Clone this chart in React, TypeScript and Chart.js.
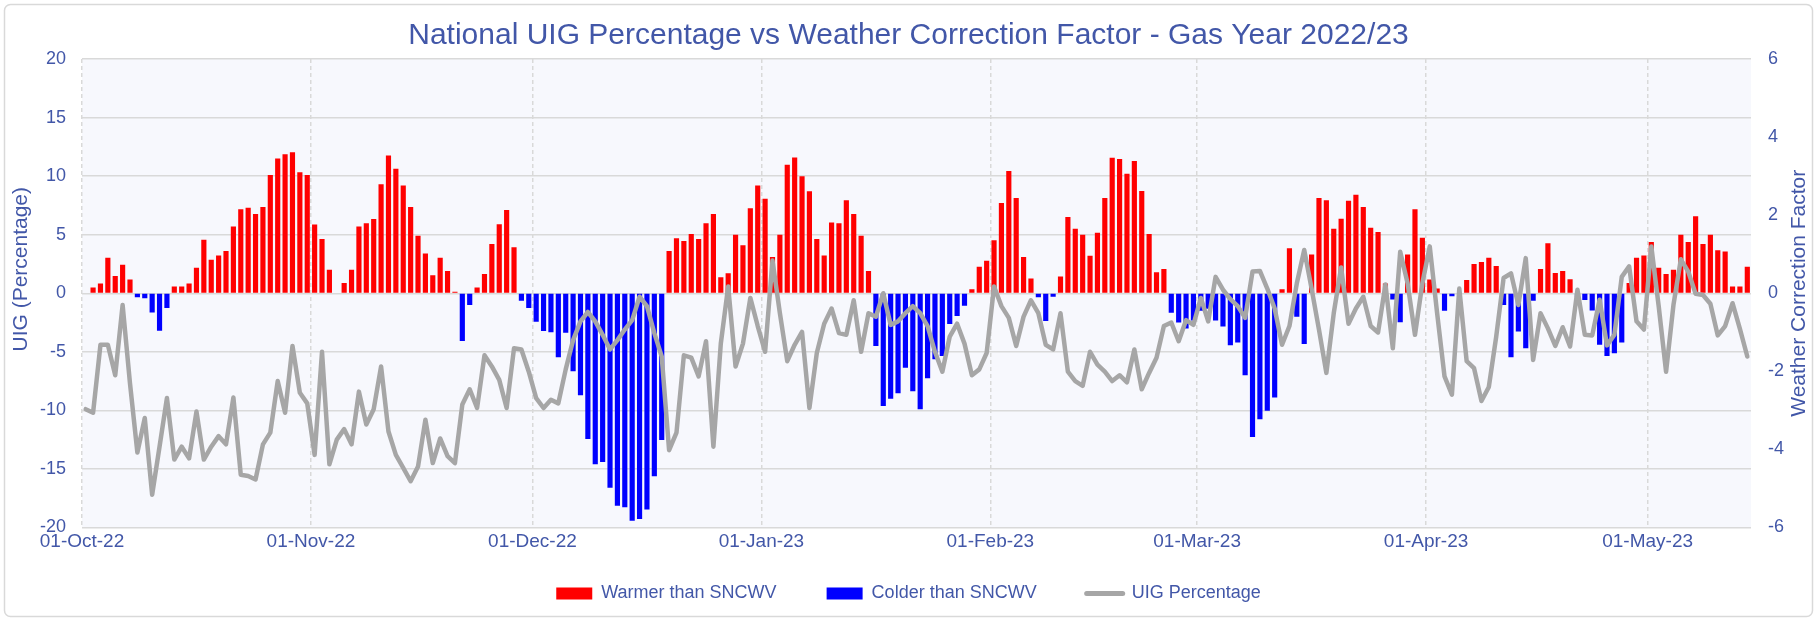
import React, { useEffect, useRef } from "react";
import { Chart, registerables } from "chart.js";

Chart.register(...registerables);

const FONT = "'Liberation Sans', Arial, sans-serif";
const TEXT_BLUE = "#4257A8";
const GRID = "#D9D9D9";

const chartTitle = "National UIG Percentage vs Weather Correction Factor - Gas Year 2022/23";
const leftAxisTitle = "UIG (Percentage)";
const rightAxisTitle = "Weather Correction Factor";
const seriesNames = ["Warmer than SNCWV", "Colder than SNCWV", "UIG Percentage"];

const monthTickLabels = ["01-Oct-22", "01-Nov-22", "01-Dec-22", "01-Jan-23", "01-Feb-23", "01-Mar-23", "01-Apr-23", "01-May-23"];

// Daily Weather Correction Factor (right axis), 01-Oct-22 .. 14-May-23
const weatherCorrection = [
  0, 0.15, 0.25, 0.91, 0.44, 0.73, 0.35, -0.10, -0.13, -0.49,
  -0.96, -0.38, 0.17, 0.17, 0.25, 0.65, 1.37, 0.86, 0.97, 1.08,
  1.71, 2.15, 2.19, 2.03, 2.21, 3.03, 3.45, 3.56, 3.61, 3.10,
  3.03, 1.76, 1.39, 0.60, 0, 0.26, 0.60, 1.71, 1.79, 1.90,
  2.79, 3.53, 3.19, 2.76, 2.21, 1.47, 1.02, 0.46, 0.91, 0.57,
  0.04, -1.22, -0.30, 0.15, 0.49, 1.26, 1.77, 2.13, 1.18, -0.19,
  -0.38, -0.73, -0.97, -1.00, -1.64, -1.01, -2.00, -2.61, -3.73, -4.38,
  -4.32, -4.98, -5.44, -5.48, -5.83, -5.78, -5.54, -4.69, -3.76, 1.08,
  1.41, 1.34, 1.52, 1.39, 1.79, 2.03, 0.41, 0.51, 1.50, 1.23,
  2.18, 2.76, 2.42, 0.93, 1.50, 3.29, 3.48, 3.00, 2.61, 1.39,
  0.97, 1.81, 1.79, 2.38, 2.03, 1.47, 0.57, -1.35, -2.89, -2.70,
  -2.56, -1.91, -2.51, -2.97, -2.18, -1.69, -1.61, -0.79, -0.58, -0.32,
  0.10, 0.68, 0.83, 1.36, 2.31, 3.13, 2.44, 0.93, 0.38, -0.10,
  -0.71, -0.09, 0.43, 1.95, 1.65, 1.50, 0.96, 1.55, 2.44, 3.47,
  3.44, 3.06, 3.39, 2.62, 1.52, 0.54, 0.62, -0.50, -0.75, -0.90,
  -0.70, -0.45, -0.40, -0.70, -0.85, -1.33, -1.26, -2.10, -3.68, -3.23,
  -3.01, -2.67, 0.10, 1.15, -0.60, -1.30, 0.99, 2.44, 2.38, 1.65,
  1.91, 2.37, 2.52, 2.21, 1.68, 1.57, 0.25, -0.16, -0.74, 0.99,
  2.15, 1.42, 0.35, 0.12, -0.45, -0.08, 0, 0.34, 0.75, 0.80,
  0.91, 0.70, -0.30, -1.64, -0.98, -1.41, -0.19, 0.62, 1.28, 0.52,
  0.57, 0.36, -0.10, -0.17, -0.44, -1.32, -1.61, -1.54, -1.26, 0.26,
  0.91, 0.97, 1.31, 0.65, 0.49, 0.60, 1.50, 1.31, 1.97, 1.26,
  1.50, 1.10, 1.07, 0.17, 0.17, 0.68,
];

// Daily national UIG percentage (left axis)
const uigPercentage = [
  -9.9, -10.2, -4.4, -4.4, -7.0, -1.0, -7.7, -13.6, -10.65, -17.2,
  -13.1, -8.95, -14.2, -13.1, -14.1, -10.1, -14.2, -13.1, -12.2, -12.9,
  -8.9, -15.5, -15.6, -15.9, -12.9, -11.9, -7.5, -10.2, -4.5, -8.5,
  -9.4, -13.8, -5.0, -14.6, -12.5, -11.6, -12.9, -8.4, -11.2, -9.9,
  -6.25, -11.8, -13.8, -14.9, -16.05, -14.8, -10.8, -14.5, -12.4, -13.9,
  -14.5, -9.5, -8.2, -9.8, -5.3, -6.25, -7.4, -9.8, -4.7, -4.8,
  -6.7, -8.95, -9.8, -9.1, -9.4, -6.5, -4.0, -2.4, -1.6, -2.4,
  -3.55, -4.8, -4.0, -3.1, -2.3, -0.3, -1.1, -3.4, -5.4, -13.4,
  -11.9, -5.3, -5.5, -7.1, -4.1, -13.1, -4.3, 0.57, -6.25, -4.3,
  -0.4, -2.8, -5.0, 2.8, -1.7, -5.8, -4.4, -3.3, -9.8, -5.1,
  -2.6, -1.3, -3.4, -3.55, -0.6, -5.0, -1.7, -2.0, 0, -2.7,
  -2.4, -1.7, -1.1, -1.7, -2.8, -5.0, -6.7, -3.7, -2.6, -4.3,
  -7.0, -6.5, -5.1, 0.57, -1.1, -2.1, -4.5, -2.0, -0.6, -1.7,
  -4.4, -4.8, -1.7, -6.7, -7.5, -7.9, -5.0, -6.1, -6.7, -7.5,
  -7.0, -7.6, -4.8, -8.2, -6.8, -5.5, -2.8, -2.5, -4.1, -2.3,
  -2.7, -0.4, -2.4, 1.4, 0.3, -0.5, -1.1, -2.1, 1.85, 1.9,
  0.4, -1.3, -4.4, -2.8, 0.85, 3.7, 0.4, -3.1, -6.8, -1.7,
  2.2, -2.6, -1.3, -0.3, -2.8, -3.35, 0.75, -4.7, 3.55, 0.85,
  -3.55, 0.85, 4.0, -1.7, -7.1, -8.65, 0.4, -5.8, -6.4, -9.2,
  -8.0, -3.7, 1.3, 1.7, -1.0, 3.0, -5.7, -1.7, -3.0, -4.5,
  -2.9, -4.55, 0.3, -3.55, -3.6, -0.55, -4.45, -3.55, 1.4, 2.3,
  -2.4, -3.1, 4.0, -1.1, -6.7, -1.0, 2.9, 1.85, -0.05, -0.15,
  -0.9, -3.6, -2.8, -0.85, -3.05, -5.4,
];

const MONTHS = ["Jan", "Feb", "Mar", "Apr", "May", "Jun", "Jul", "Aug", "Sep", "Oct", "Nov", "Dec"];
const dates: string[] = weatherCorrection.map((_, i) => {
  const dt = new Date(Date.UTC(2022, 9, 1 + i));
  return `${String(dt.getUTCDate()).padStart(2, "0")}-${MONTHS[dt.getUTCMonth()]}-${String(dt.getUTCFullYear()).slice(2)}`;
});
const isMonthStart = (i: number) => i >= 0 && i < dates.length && monthTickLabels.includes(dates[i]);

const warmer = weatherCorrection.map((v) => (v > 0 ? v : null));
const colder = weatherCorrection.map((v) => (v < 0 ? v : null));

const LEGEND_GAP = 50;

const decorPlugin = {
  id: "decor",
  beforeDraw(chart: any) {
    const { ctx, chartArea } = chart;
    const { left, top, right, bottom } = chartArea;
    ctx.save();
    ctx.fillStyle = "#FFFFFF";
    ctx.fillRect(0, 0, chart.width, chart.height);
    ctx.fillStyle = "#F7F8FD";
    ctx.fillRect(left, top, right - left, bottom - top);
    ctx.strokeStyle = GRID;
    ctx.lineWidth = 1.5;
    ctx.beginPath();
    if (ctx.roundRect) ctx.roundRect(4.5, 4.5, chart.width - 9, chart.height - 9, 6);
    else ctx.rect(4.5, 4.5, chart.width - 9, chart.height - 9);
    ctx.stroke();
    ctx.restore();
  },
  afterDraw(chart: any) {
    const { ctx, chartArea } = chart;
    const midY = (chartArea.top + chartArea.bottom) / 2;
    ctx.save();
    ctx.fillStyle = TEXT_BLUE;
    ctx.font = `21px ${FONT}`;
    ctx.textAlign = "center";
    ctx.textBaseline = "middle";
    ctx.save();
    ctx.translate(21, midY - 24);
    ctx.rotate(-Math.PI / 2);
    ctx.fillText(leftAxisTitle, 0, 0);
    ctx.restore();
    ctx.save();
    ctx.translate(chart.width - 18, midY);
    ctx.rotate(-Math.PI / 2);
    ctx.fillText(rightAxisTitle, 0, 0);
    ctx.restore();
    ctx.restore();
  },
};

export default function App() {
  const canvasRef = useRef<HTMLCanvasElement | null>(null);

  useEffect(() => {
    if (!canvasRef.current) return;
    const tickFont = { family: FONT, size: 18 };
    const chart = new Chart(canvasRef.current, {
      type: "bar",
      data: {
        labels: dates,
        datasets: [
          {
            type: "bar",
            label: seriesNames[0],
            data: warmer,
            backgroundColor: "#FF0000",
            yAxisID: "y1",
            grouped: false,
            barPercentage: 0.7,
            categoryPercentage: 1,
            order: 2,
          } as any,
          {
            type: "bar",
            label: seriesNames[1],
            data: colder,
            backgroundColor: "#0000FF",
            yAxisID: "y1",
            grouped: false,
            barPercentage: 0.7,
            categoryPercentage: 1,
            order: 2,
          } as any,
          {
            type: "line",
            label: seriesNames[2],
            data: uigPercentage,
            borderColor: "#A6A6A6",
            backgroundColor: "#A6A6A6",
            borderWidth: 4.5,
            pointRadius: 0,
            tension: 0,
            borderJoinStyle: "round",
            borderCapStyle: "round",
            yAxisID: "y",
            order: 1,
          } as any,
        ],
      },
      options: {
        responsive: false,
        animation: false,
        layout: { padding: { left: 0, right: 0, top: 0, bottom: 8.5 } },
        plugins: {
          tooltip: { enabled: false },
          title: {
            display: true,
            text: chartTitle,
            color: TEXT_BLUE,
            font: { family: FONT, size: 30, weight: "normal" },
            padding: { top: 18, bottom: 5 },
          },
          legend: {
            position: "bottom",
            labels: {
              usePointStyle: true,
              pointStyleWidth: 36,
              boxHeight: 12,
              padding: LEGEND_GAP,
              color: TEXT_BLUE,
              font: { family: FONT, size: 18 },
              generateLabels: () => [
                { text: seriesNames[0], fillStyle: "#FF0000", strokeStyle: "#FF0000", lineWidth: 0, pointStyle: "rect", fontColor: TEXT_BLUE, datasetIndex: 0, hidden: false },
                { text: seriesNames[1], fillStyle: "#0000FF", strokeStyle: "#0000FF", lineWidth: 0, pointStyle: "rect", fontColor: TEXT_BLUE, datasetIndex: 1, hidden: false },
                { text: seriesNames[2], fillStyle: "#A6A6A6", strokeStyle: "#A6A6A6", lineWidth: 5, lineCap: "round", pointStyle: "line", fontColor: TEXT_BLUE, datasetIndex: 2, hidden: false },
              ] as any,
            },
          },
        },
        scales: {
          x: {
            type: "category",
            offset: true,
            grid: {
              offset: true,
              drawTicks: false,
              lineWidth: 1.5,
              color: (ctx: any) => (isMonthStart(ctx.index) ? GRID : "rgba(0,0,0,0)"),
            },
            border: { display: false, dash: [4, 3] },
            ticks: {
              autoSkip: false,
              maxRotation: 0,
              minRotation: 0,
              mirror: true,
              padding: -26,
              labelOffset: -3.7,
              color: TEXT_BLUE,
              font: { family: FONT, size: 19 },
              callback: (_v: any, index: number) => (isMonthStart(index) ? dates[index] : ""),
            },
            afterFit: (scale: any) => {
              scale.height = 57 - LEGEND_GAP;
            },
          },
          y: {
            position: "left",
            min: -20,
            max: 20,
            ticks: { stepSize: 5, padding: 16, color: TEXT_BLUE, font: tickFont },
            grid: { color: GRID, lineWidth: 1.5, drawTicks: false },
            border: { display: false },
            afterFit: (scale: any) => {
              scale.width = 82;
            },
          },
          y1: {
            position: "right",
            min: -6,
            max: 6,
            ticks: { stepSize: 2, padding: 17, color: TEXT_BLUE, font: tickFont },
            grid: { drawOnChartArea: false, drawTicks: false },
            border: { display: false },
            afterFit: (scale: any) => {
              scale.width = 66;
            },
          },
        },
      } as any,
      plugins: [decorPlugin],
    });
    return () => chart.destroy();
  }, []);

  return (
    <div style={{ position: "fixed", left: 0, top: 0, width: 1817, height: 621, background: "#FFFFFF" }}>
      <canvas ref={canvasRef} width={1817} height={621} style={{ display: "block", width: 1817, height: 621 }} />
    </div>
  );
}
